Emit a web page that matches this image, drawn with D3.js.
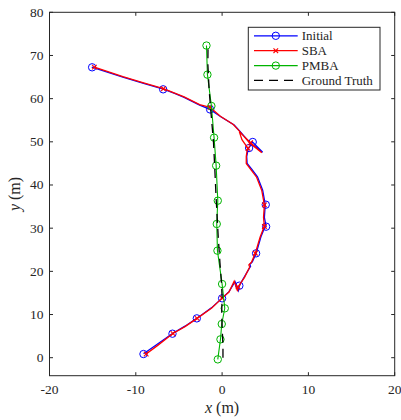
<!DOCTYPE html>
<html>
<head>
<meta charset="utf-8">
<script src="https://cdn.jsdelivr.net/npm/d3@7"></script>
<style>
  body { margin: 0; background: #fff; }
  svg { display: block; }
  text { font-family: "Liberation Serif", "Times New Roman", serif; fill: #262626; }
</style>
</head>
<body>
<div id="chart"></div>
<script>
// trajectories, [x, y] in metres
var initialPath = [
  [-9.1, 0.9], [-7.6, 3.0], [-5.75, 5.6], [-4.3, 7.3], [-2.93, 9.1], [-1.2, 11.6], [0.0, 13.8],
  [0.8, 15.3], [1.5, 17.6], [1.9, 15.6], [2.0, 16.7], [2.6, 18.8], [3.3, 21.2], [3.2, 21.6],
  [3.5, 22.2], [3.95, 24.2], [4.5, 28.0], [4.9, 30.0], [5.1, 30.4], [4.9, 32.5], [5.0, 35.5],
  [4.7, 38.8], [4.1, 41.9], [3.5, 43.5], [2.9, 45.0], [2.85, 46.6], [3.0, 48.1], [3.1, 48.6],
  [3.5, 50.0], [4.7, 47.6], [3.3, 49.6], [2.0, 52.6], [1.4, 53.9], [-0.15, 55.8], [-1.4, 57.5],
  [-2.6, 58.5], [-4.4, 60.3], [-5.5, 61.2], [-6.8, 62.2], [-9.0, 63.5], [-11.5, 65.0], [-15.1, 67.3]
];
var initialMarks = [
  [-9.11, 0.85], [-5.75, 5.56], [-2.93, 9.11], [0.0, 13.75], [2.0, 16.68], [3.94, 24.17],
  [5.1, 30.35], [5.06, 35.44], [3.13, 48.57], [3.55, 49.96], [-1.39, 57.5], [-6.83, 62.16], [-15.06, 67.26]
];

var sbaPath = [
  [-8.8, 0.85], [-7.5, 2.8], [-5.7, 5.6], [-4.3, 7.2], [-2.9, 9.1], [-1.2, 11.5], [0.0, 13.8],
  [0.8, 15.2], [1.4, 17.7], [1.8, 15.4], [1.85, 16.4], [2.6, 18.6], [3.2, 21.0], [3.1, 21.5],
  [3.4, 22.1], [3.85, 24.2], [4.4, 27.9], [4.8, 30.0], [4.9, 30.4], [4.8, 32.5], [4.9, 35.4],
  [4.6, 38.7], [4.0, 41.8], [3.4, 43.4], [2.8, 45.0], [2.8, 46.6], [2.9, 48.0], [3.0, 48.5],
  [2.3, 50.5], [2.0, 52.3], [3.3, 49.8], [4.6, 47.5], [3.2, 49.7], [1.9, 52.7], [1.3, 54.0],
  [-0.2, 55.9], [-1.4, 58.0], [-2.6, 58.6], [-4.4, 60.4], [-5.5, 61.3], [-6.8, 62.3], [-9.0, 63.6],
  [-11.5, 65.1], [-14.8, 67.3]
];
var sbaMarks = [
  [-8.8, 0.85], [-5.7, 5.6], [-2.9, 9.1], [0.0, 13.8], [1.85, 16.4], [3.85, 24.2],
  [4.9, 30.4], [4.9, 35.4], [3.0, 48.5], [3.3, 49.8], [-1.4, 58.0], [-6.8, 62.3], [-14.8, 67.3]
];

var pmbaMarks = [
  [-1.81, 72.3], [-1.7, 65.56], [-1.24, 58.3], [-0.93, 50.97], [-0.69, 44.48], [-0.5, 36.37],
  [-0.62, 30.97], [-0.54, 24.79], [0.0, 17.07], [0.31, 11.43], [-0.04, 7.8], [-0.19, 4.25], [-0.5, -0.39]
];

var truthPath = [
  [0.1, 0], [0.1, 2.5], [0.05, 5], [-0.05, 10], [0.0, 14], [-0.07, 17.2], [-0.25, 22], [-0.45, 28],
  [-0.7, 37.3], [-0.85, 44], [-1.0, 50], [-1.3, 57], [-1.5, 62], [-1.65, 68], [-1.63, 72]
];

var xTicks = [-20, -10, 0, 10, 20];
var yTicks = [0, 10, 20, 30, 40, 50, 60, 70, 80];
var legendNames = ["Initial", "SBA", "PMBA", "Ground Truth"];

var W = 401, H = 420;
var padL = 49.5, padR = 394.7, padT = 12.3, padB = 375.7;
var axisCol = "#262626";
var blue = "#0000ff", red = "#ff0000", green = "#00b400";
var dash = "9,6";

var svg = d3.select("#chart").append("svg").attr("width", W).attr("height", H);

var x = d3.scaleLinear().domain([-20, 20]).range([padL, padR]);
var y = d3.scaleLinear().domain([-4.17, 80]).range([padB, padT]);

var line = d3.line().x(function(d){ return x(d[0]); }).y(function(d){ return y(d[1]); });
var crossD = "M-2.3,-2.3L2.3,2.3M-2.3,2.3L2.3,-2.3";

var plot = svg.append("g");

// drawn in plot order: initial, sba, pmba, truth
plot.append("path").datum(initialPath).attr("d", line)
  .attr("fill", "none").attr("stroke", blue).attr("stroke-width", 1.3);
plot.selectAll(".im").data(initialMarks).enter().append("circle")
  .attr("cx", function(d){ return x(d[0]); }).attr("cy", function(d){ return y(d[1]); })
  .attr("r", 3.7).attr("fill", "none").attr("stroke", blue).attr("stroke-width", 1);

plot.append("path").datum(sbaPath).attr("d", line)
  .attr("fill", "none").attr("stroke", red).attr("stroke-width", 1.3);
plot.selectAll(".sm").data(sbaMarks).enter().append("path")
  .attr("d", crossD)
  .attr("transform", function(d){ return "translate(" + x(d[0]) + "," + y(d[1]) + ")"; })
  .attr("stroke", red).attr("stroke-width", 1.1);

plot.append("path").datum(pmbaMarks).attr("d", line)
  .attr("fill", "none").attr("stroke", green).attr("stroke-width", 1.1);
plot.selectAll(".pm").data(pmbaMarks).enter().append("circle")
  .attr("cx", function(d){ return x(d[0]); }).attr("cy", function(d){ return y(d[1]); })
  .attr("r", 3.7).attr("fill", "none").attr("stroke", green).attr("stroke-width", 1);

plot.append("path").datum(truthPath).attr("d", line)
  .attr("fill", "none").attr("stroke", "#000").attr("stroke-width", 1.3)
  .attr("stroke-dasharray", dash);

// axes box and ticks
var ax = svg.append("g");
ax.append("rect").attr("x", padL).attr("y", padT).attr("width", padR - padL).attr("height", padB - padT)
  .attr("fill", "none").attr("stroke", axisCol).attr("stroke-width", 1);

var tl = 3.5;
xTicks.forEach(function(t){
  ax.append("line").attr("x1", x(t)).attr("x2", x(t)).attr("y1", padB).attr("y2", padB - tl).attr("stroke", axisCol);
  ax.append("line").attr("x1", x(t)).attr("x2", x(t)).attr("y1", padT).attr("y2", padT + tl).attr("stroke", axisCol);
  ax.append("text").attr("x", x(t)).attr("y", padB + 18).attr("text-anchor", "middle")
    .attr("font-size", "13.5px").text(t);
});
yTicks.forEach(function(t){
  ax.append("line").attr("y1", y(t)).attr("y2", y(t)).attr("x1", padL).attr("x2", padL + tl).attr("stroke", axisCol);
  ax.append("line").attr("y1", y(t)).attr("y2", y(t)).attr("x1", padR).attr("x2", padR - tl).attr("stroke", axisCol);
  ax.append("text").attr("x", padL - 6).attr("y", y(t) + 4.5).attr("text-anchor", "end")
    .attr("font-size", "13.5px").text(t);
});

// axis labels
var xl = svg.append("text").attr("x", (padL + padR) / 2).attr("y", 413).attr("text-anchor", "middle").attr("font-size", "16px");
xl.append("tspan").attr("font-style", "italic").text("x");
xl.append("tspan").text(" (m)");
var yl = svg.append("text").attr("transform", "translate(20," + ((padT + padB) / 2) + ") rotate(-90)")
  .attr("text-anchor", "middle").attr("font-size", "16px");
yl.append("tspan").attr("font-style", "italic").text("y");
yl.append("tspan").text(" (m)");

// legend
var lg = svg.append("g");
lg.append("rect").attr("x", 248.3).attr("y", 27.3).attr("width", 131.7).attr("height", 62.7)
  .attr("fill", "#fff").attr("stroke", axisCol).attr("stroke-width", 1);
var rows = [35.8, 50.7, 65.6, 80.3];
var legendCols = [blue, red, green, "#000"];
legendNames.forEach(function(name, i){
  var ly = rows[i];
  var l = lg.append("line").attr("x1", 254).attr("x2", 297.7).attr("y1", ly).attr("y2", ly)
    .attr("stroke", legendCols[i]).attr("stroke-width", 1.3);
  if (i === 3) l.attr("stroke-dasharray", dash);
  if (i === 0 || i === 2) {
    lg.append("circle").attr("cx", 275.8).attr("cy", ly).attr("r", 3.7)
      .attr("fill", "none").attr("stroke", legendCols[i]).attr("stroke-width", 1);
  }
  if (i === 1) {
    lg.append("path").attr("d", crossD)
      .attr("transform", "translate(275.8," + ly + ")").attr("stroke", red).attr("stroke-width", 1.1);
  }
  lg.append("text").attr("x", 301.7).attr("y", ly + 4.5).attr("font-size", "13px").text(name);
});
</script>
</body>
</html>
